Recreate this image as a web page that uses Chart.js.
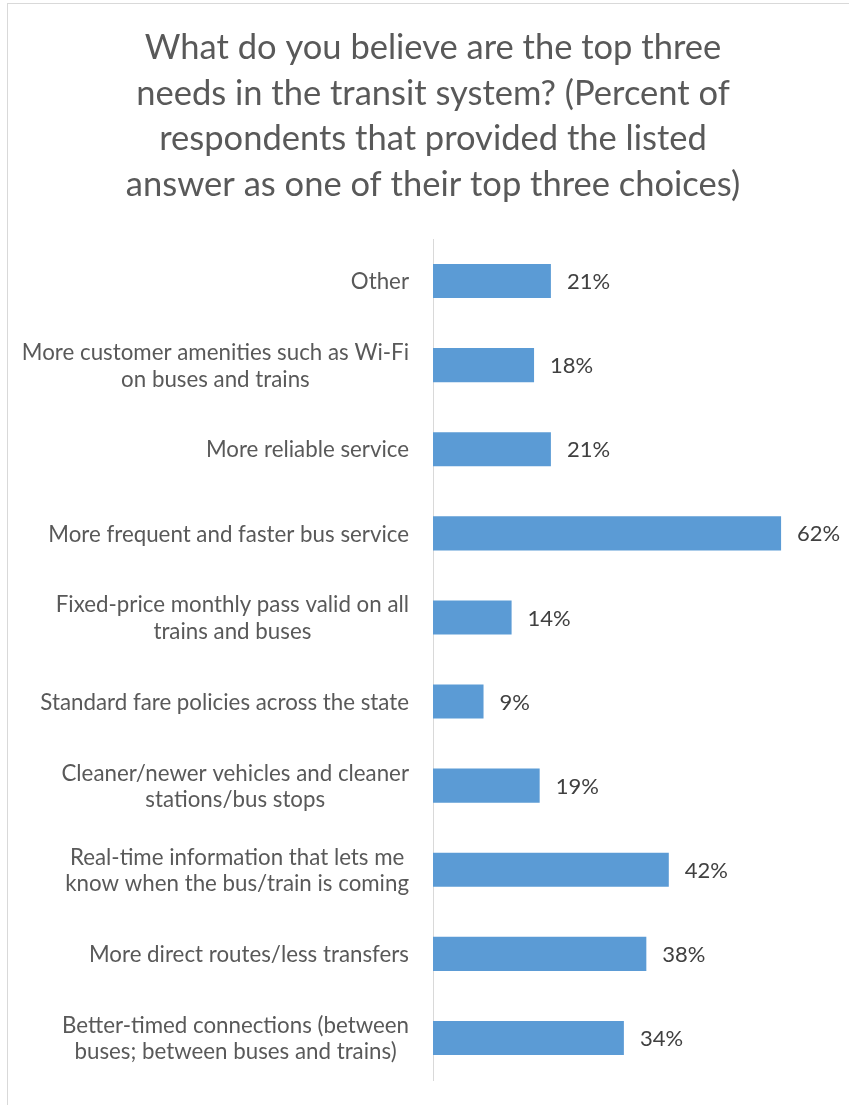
<!DOCTYPE html>
<html>
<head>
<meta charset="utf-8">
<title>Top three transit needs</title>
<script src="https://cdn.jsdelivr.net/npm/chart.js@4.4.1/dist/chart.umd.min.js"></script>
<style>
  html, body { margin: 0; padding: 0; background: #ffffff; }
  #wrap { position: relative; width: 849px; height: 1105px; }
</style>
</head>
<body>
<div id="wrap"><canvas id="chart" width="849" height="1105"></canvas></div>
<script>
// Survey answers, listed top to bottom
const categories = [
  ["Other"],
  ["More customer amenities such as Wi-Fi", "on buses and trains"],
  ["More reliable service"],
  ["More frequent and faster bus service"],
  ["Fixed-price monthly pass valid on all", "trains and buses"],
  ["Standard fare policies across the state"],
  ["Cleaner/newer vehicles and cleaner", "stations/bus stops"],
  ["Real-time information that lets me", "know when the bus/train is coming"],
  ["More direct routes/less transfers"],
  ["Better-timed connections (between", "buses; between buses and trains)"]
];
// Percent of respondents naming each answer among their top three
const percentValues = [21, 18, 21, 62, 14, 9, 19, 42, 38, 34];
const titleLines = [
  "What do you believe are the top three",
  "needs in the transit system? (Percent of",
  "respondents that provided the listed",
  "answer as one of their top three choices)"
];

const FONT = "Lato, 'Open Sans', sans-serif";

// White background and light frame around the chart area
const framePlugin = {
  id: 'frame',
  beforeDraw(chart) {
    const ctx = chart.ctx;
    ctx.save();
    ctx.fillStyle = '#ffffff';
    ctx.fillRect(0, 0, chart.width, chart.height);
    ctx.strokeStyle = '#d9d9d9';
    ctx.lineWidth = 1;
    ctx.strokeRect(7.5, 3.5, 1000, 1200);
    ctx.restore();
  }
};

// Four-line title centred over the axis column
const titlePlugin = {
  id: 'bigTitle',
  afterDraw(chart) {
    const ctx = chart.ctx;
    ctx.save();
    ctx.font = "34.5px " + FONT;
    ctx.fillStyle = '#595959';
    ctx.textAlign = 'center';
    ctx.textBaseline = 'alphabetic';
    const cx = 433;
    titleLines.forEach((l, k) => ctx.fillText(l, cx, 59 + k * 45.5));
    ctx.restore();
  }
};

// Category labels: block right-aligned to the axis, lines centred within the block
const categoryLabelPlugin = {
  id: 'categoryLabels',
  afterDraw(chart) {
    const ctx = chart.ctx;
    const y = chart.scales.y;
    const right = chart.chartArea.left - 24;
    const lineH = 26.5;
    ctx.save();
    ctx.font = "22.3px " + FONT;
    ctx.fillStyle = '#595959';
    ctx.textBaseline = 'middle';
    ctx.textAlign = 'center';
    categories.forEach((lines, i) => {
      const cy = y.getPixelForValue(i) + 1;
      const w = Math.max(...lines.map(l => ctx.measureText(l).width));
      const cx = right - w / 2;
      const top = cy - (lines.length - 1) * lineH / 2;
      lines.forEach((l, k) => ctx.fillText(l, cx, top + k * lineH));
    });
    ctx.restore();
  }
};

// Value labels just beyond each bar end
const valueLabelPlugin = {
  id: 'valueLabels',
  afterDatasetsDraw(chart) {
    const ctx = chart.ctx;
    const meta = chart.getDatasetMeta(0);
    ctx.save();
    ctx.font = "22px " + FONT;
    ctx.fillStyle = '#404040';
    ctx.textBaseline = 'middle';
    ctx.textAlign = 'left';
    meta.data.forEach((bar, i) => {
      ctx.fillText(percentValues[i] + '%', bar.x + 16, bar.y + 1);
    });
    ctx.restore();
  }
};

new Chart(document.getElementById('chart'), {
  type: 'bar',
  data: {
    labels: categories.map(c => c.join(' ')),
    datasets: [{
      data: percentValues,
      backgroundColor: '#5b9bd5',
      borderWidth: 0,
      barPercentage: 0.405,
      categoryPercentage: 1.0
    }]
  },
  options: {
    indexAxis: 'y',
    responsive: false,
    animation: false,
    layout: { padding: { left: 433, right: 23, top: 239, bottom: 25 } },
    plugins: {
      legend: { display: false },
      tooltip: { enabled: false },
      title: { display: false }
    },
    scales: {
      x: {
        display: false,
        min: 0,
        max: 70
      },
      y: {
        display: true,
        ticks: { display: false },
        grid: { display: false, drawTicks: false },
        border: { display: true, color: '#d9d9d9', width: 1 }
      }
    }
  },
  plugins: [framePlugin, titlePlugin, categoryLabelPlugin, valueLabelPlugin]
});
</script>
</body>
</html>
